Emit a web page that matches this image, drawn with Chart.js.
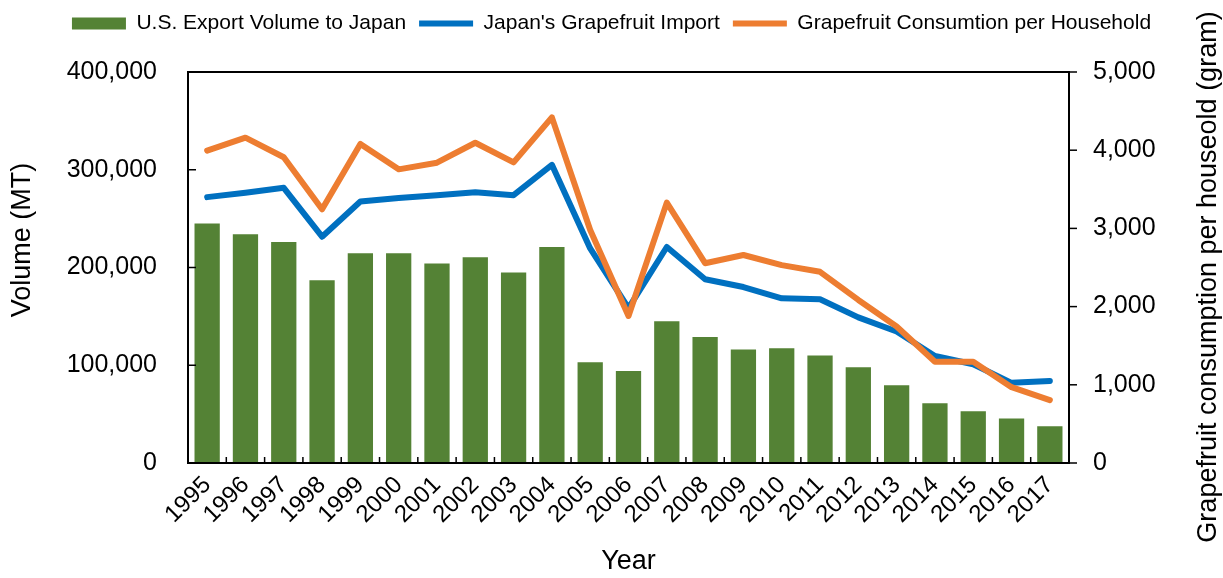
<!DOCTYPE html>
<html><head><meta charset="utf-8">
<script src="https://cdn.jsdelivr.net/npm/chart.js@4"></script>
<style>html,body{margin:0;padding:0;background:#fff}canvas{display:block}</style>
</head><body>
<canvas id="c" width="1223" height="578"></canvas>
<script>
const years = ['1995','1996','1997','1998','1999','2000','2001','2002','2003','2004','2005','2006','2007','2008','2009','2010','2011','2012','2013','2014','2015','2016','2017'];
const usExportVolume = [245000,234000,226000,187000,214500,214500,204000,210500,195000,221000,103000,94000,145000,129000,116000,117500,110000,98000,79500,61000,53000,45500,37500];
const japanImport = [272000,276500,281500,231500,267500,271000,274000,277000,274000,305000,219500,158500,221000,188000,180000,168500,167500,149000,134500,109500,101000,82000,84000];
const consumptionPerHousehold = [3995,4160,3910,3245,4080,3755,3840,4095,3845,4420,2980,1880,3330,2555,2660,2530,2445,2085,1745,1295,1295,970,805];
const leftTicks = [0,100000,200000,300000,400000];
const rightTicks = [0,1000,2000,3000,4000,5000];
const seriesNames = ['U.S. Export Volume to Japan',"Japan's Grapefruit Import",'Grapefruit Consumtion per Household'];
const leftTitle = 'Volume (MT)';
const rightTitle = 'Grapefruit consumption per houseold (gram)';
const xTitle = 'Year';

const FONT = "'Liberation Sans', Arial, sans-serif";
const W = 1223, H = 578;
const AREA = {left:188, right:1069, top:72, bottom:463};

const framePlugin = {
  id: 'frame',
  beforeInit(chart) {
    const orig = chart.legend.fit;
    chart.legend.fit = function() { orig.call(this); this.height = AREA.top; };
  },
  afterDatasetsDraw(chart) {
    const {ctx, chartArea: a, scales: {x, y, y1}} = chart;
    ctx.save();
    ctx.strokeStyle = '#000';
    ctx.lineWidth = 1.5;
    const line = (x1, y1_, x2, y2) => { ctx.beginPath(); ctx.moveTo(x1, y1_); ctx.lineTo(x2, y2); ctx.stroke(); };
    leftTicks.forEach(v => { const py = y.getPixelForValue(v); line(a.left, py, a.left + 8, py); });
    rightTicks.forEach(v => { const py = y1.getPixelForValue(v); line(a.right, py, a.right + 8, py); });
    for (let i = 0; i <= years.length; i++) {
      const px = x.getPixelForValue(i - 0.5);
      line(px, a.bottom, px, a.bottom - 6);
    }
    ctx.lineWidth = 2;
    ctx.strokeRect(a.left, a.top, a.right - a.left, a.bottom - a.top);
    ctx.restore();
  },
  afterDraw(chart) {
    const ctx = chart.ctx;
    ctx.save();
    ctx.fillStyle = '#000';
    ctx.font = '27px ' + FONT;
    ctx.textAlign = 'center';
    ctx.textBaseline = 'middle';
    ctx.translate(23, 240); ctx.rotate(-Math.PI / 2); ctx.fillText(leftTitle, 0, 0);
    ctx.setTransform(1, 0, 0, 1, 0, 0);
    ctx.translate(1209, 277); ctx.rotate(-Math.PI / 2); ctx.fillText(rightTitle, 0, 0);
    ctx.restore();
  }
};

new Chart(document.getElementById('c'), {
  data: {
    labels: years,
    datasets: [
      {type:'bar', label: seriesNames[0], data: usExportVolume, yAxisID:'y', backgroundColor:'#548235', borderWidth:0, order:3,
       categoryPercentage:1, barPercentage:0.66},
      {type:'line', label: seriesNames[1], data: japanImport, yAxisID:'y', borderColor:'#0070C0', backgroundColor:'#0070C0',
       borderWidth:6, pointRadius:0, tension:0, fill:false, borderCapStyle:'round', borderJoinStyle:'round', order:2},
      {type:'line', label: seriesNames[2], data: consumptionPerHousehold, yAxisID:'y1', borderColor:'#ED7D31', backgroundColor:'#ED7D31',
       borderWidth:6, pointRadius:0, tension:0, fill:false, borderCapStyle:'round', borderJoinStyle:'round', order:1}
    ]
  },
  options: {
    responsive:false, animation:false, devicePixelRatio:1,
    layout:{padding:{top:0,left:0,right:0,bottom:0}},
    plugins:{
      tooltip:{enabled:false},
      legend:{
        position:'top',
        labels:{
          font:{size:21, family:FONT}, color:'#000',
          usePointStyle:true, pointStyleWidth:54, boxHeight:12, padding:13,
          generateLabels(chart){
            const items = Chart.defaults.plugins.legend.labels.generateLabels(chart);
            items.sort((p,q)=>p.datasetIndex-q.datasetIndex);
            items.forEach(it=>{
              const ds = chart.data.datasets[it.datasetIndex];
              if (ds.type === 'bar') { it.pointStyle = 'rect'; it.lineWidth = 0; }
              else { it.pointStyle = 'line'; it.strokeStyle = ds.borderColor; it.lineWidth = 6; }
            });
            return items;
          }
        }
      }
    },
    scales:{
      x:{
        type:'category', position:'bottom', offset:true,
        grid:{display:false, drawTicks:false}, border:{display:false},
        ticks:{font:{size:24, family:FONT}, color:'#000', minRotation:45, maxRotation:45, autoSkip:false, padding:8},
        title:{display:true, text:xTitle, font:{size:27, family:FONT}, color:'#000', padding:{top:0,bottom:0}},
        afterFit(s){ s.height = H - AREA.bottom; }
      },
      y:{
        type:'linear', position:'left', min:0, max:400000,
        grid:{display:false, drawTicks:false}, border:{display:false},
        ticks:{stepSize:100000, font:{size:25, family:FONT}, color:'#000', padding:31,
               callback:v=>v.toLocaleString('en-US')},
        afterFit(s){ s.width = AREA.left; }
      },
      y1:{
        type:'linear', position:'right', min:0, max:5000,
        grid:{display:false, drawTicks:false}, border:{display:false},
        ticks:{stepSize:1000, font:{size:25, family:FONT}, color:'#000', padding:24,
               callback:v=>v.toLocaleString('en-US')},
        afterFit(s){ s.width = W - AREA.right; }
      }
    }
  },
  plugins:[framePlugin]
});
</script>
</body></html>
